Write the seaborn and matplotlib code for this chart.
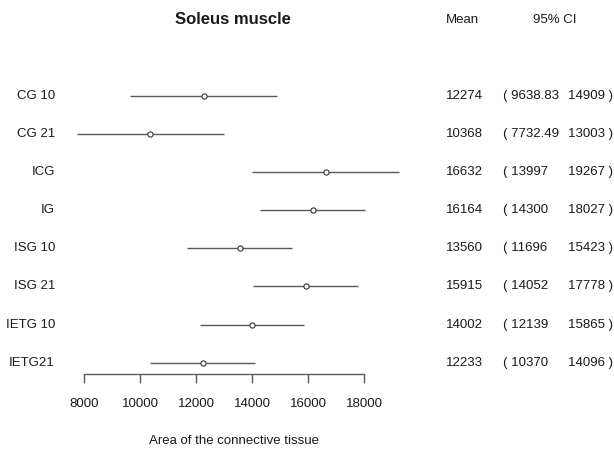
"""
Forest plot: soleus muscle, area of the connective tissue.
"""

import matplotlib
matplotlib.use("Agg")
import matplotlib.pyplot as plt
import matplotlib.transforms as mtransforms
import pandas as pd
import seaborn as sns

groups = ["CG 10", "CG 21", "ICG", "IG", "ISG 10", "ISG 21", "IETG 10", "IETG21"]
means = [12274, 10368, 16632, 16164, 13560, 15915, 14002, 12233]
ci_low = [9638.83, 7732.49, 13997, 14300, 11696, 14052, 12139, 10370]
ci_high = [14909, 13003, 19267, 18027, 15423, 17778, 15865, 14096]
mean_text = ["12274", "10368", "16632", "16164", "13560", "15915", "14002", "12233"]
low_text = ["9638.83", "7732.49", "13997", "14300", "11696", "14052", "12139", "10370"]
high_text = ["14909", "13003", "19267", "18027", "15423", "17778", "15865", "14096"]
x_ticks = [8000, 10000, 12000, 14000, 16000, 18000]

sns.set_style("white")
plt.rcParams["font.family"] = ["Liberation Sans", "DejaVu Sans"]

W, H = 614, 453
fig = plt.figure(figsize=(W / 100, H / 100), dpi=100)

# axes: full width, from the top down to the x axis line (pixel row 374)
ax_bottom_px = 374
ax = fig.add_axes([0, 1 - ax_bottom_px / H, 1, ax_bottom_px / H])

df = pd.DataFrame({"group": groups, "mean": means, "low": ci_low, "high": ci_high})
rows = list(range(len(groups)))

line_col = "#5a5a5a"
ax.hlines(rows, df["low"], df["high"], color=line_col, linewidth=1.0)
sns.scatterplot(data=df, x="mean", y="group", ax=ax, marker="o", s=14,
                facecolor="white", edgecolor="#333333", linewidth=0.8, zorder=3)

# 8000 -> 84 px, 18000 -> 364 px ; rows every 38 px starting at 96 px
px_per_unit = 280 / 10000
ax.set_xlim(8000 - 84 / px_per_unit, 8000 + (W - 84) / px_per_unit)
row0, step = 96, 38.1
ax.set_ylim((ax_bottom_px - row0) / step, -row0 / step)

for s in ["top", "right", "left"]:
    ax.spines[s].set_visible(False)
ax.spines["bottom"].set_bounds(x_ticks[0], x_ticks[-1])
ax.spines["bottom"].set_color(line_col)
ax.spines["bottom"].set_linewidth(1.0)
ax.set_xticks(x_ticks)
ax.set_xticklabels([str(t) for t in x_ticks])
ax.tick_params(axis="x", direction="out", length=6.5, width=1.0, color=line_col,
               labelsize=9.5, pad=11, labelcolor="#1a1a1a", bottom=True)
ax.set_yticks([])
ax.set_xlabel("")
ax.set_ylabel("")

txt = "#1a1a1a"
tr = mtransforms.blended_transform_factory(fig.transFigure, ax.transData)
for i, g in enumerate(groups):
    ax.text(55 / W, i, g, transform=tr, ha="right", va="center", fontsize=9.5, color=txt)
    ax.text(445.5 / W, i, mean_text[i], transform=tr, ha="left", va="center",
            fontsize=9.5, color=txt)
    ax.text(503 / W, i, "( " + low_text[i], transform=tr, ha="left", va="center",
            fontsize=9.5, color=txt)
    ax.text(568 / W, i, high_text[i] + " )", transform=tr, ha="left", va="center",
            fontsize=9.5, color=txt)

fig.text(233 / W, 1 - 20 / H, "Soleus muscle", ha="center", va="center",
         fontsize=12, fontweight="bold", color=txt)
fig.text(446 / W, 1 - 20 / H, "Mean", ha="left", va="center", fontsize=9.5, color=txt)
fig.text(555 / W, 1 - 20 / H, "95% CI", ha="center", va="center", fontsize=9.5, color=txt)
fig.text(234 / W, 1 - 441 / H, "Area of the connective tissue", ha="center",
         va="center", fontsize=9.5, color=txt)

fig.savefig("out.png", dpi=100)
